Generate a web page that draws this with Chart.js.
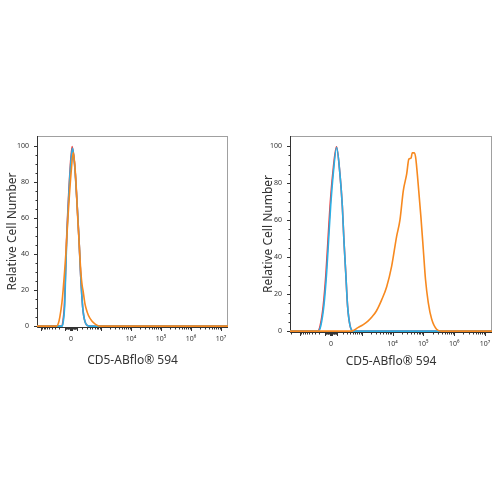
<!DOCTYPE html>
<html>
<head>
<meta charset="utf-8">
<script src="https://cdn.jsdelivr.net/npm/chart.js@4/dist/chart.umd.min.js"></script>
<style>
    html, body { margin: 0; padding: 0; background: #fff; }
    #wrap { position: relative; width: 500px; height: 500px; }
    .panel { position: absolute; top: 0; width: 250px; height: 500px; }
</style>
</head>
<body>
<div id="wrap">
    <div class="panel" style="left:0"><canvas id="leftChart" width="250" height="500"></canvas></div>
    <div class="panel" style="left:250px"><canvas id="rightChart" width="250" height="500"></canvas></div>
</div>
<script>
// Ejes: valores de las etiquetas del eje x (escala logicle) y su texto
const xTickValues = [0, 1e4, 1e5, 1e6, 1e7];
const xTickLabels = ['0', '10⁴', '10⁵', '10⁶', '10⁷'];
const yTickValues = [0, 20, 40, 60, 80, 100];

// Panel izquierdo (posiciones en unidades de la escala logicle)
const leftRedX = [-1.13, -0.3, -0.27, -0.22, -0.18, -0.145, -0.095, -0.035, 0.04, 0.1, 0.144, 0.21, 0.27, 0.32, 0.39, 0.47, 0.6, 5.23];
const leftRedY = [0, 0, 2.2, 11, 29.5, 48, 66.5, 85, 99.7, 93.5, 85, 66.3, 47.8, 29.3, 10.7, 2.4, 0, 0];
const leftBlueX = [-1.13, -0.29, -0.26, -0.21, -0.175, -0.14, -0.09, -0.03, 0.05, 0.1, 0.144, 0.21, 0.27, 0.32, 0.39, 0.47, 0.6, 5.23];
const leftBlueY = [0, 0, 2, 10.7, 29.3, 47.8, 66.3, 84.8, 98.7, 93.5, 84.8, 66.3, 47.8, 29.3, 10.7, 2.4, 0, 0];
const leftOrangeX = [-1.13, -0.48, -0.42, -0.37, -0.3, -0.26, -0.17, -0.1, 0.0, 0.08, 0.16, 0.22, 0.28, 0.33, 0.37, 0.41, 0.46, 0.5, 0.58, 0.69, 0.82, 0.97, 5.23];
const leftOrangeY = [0, 0, 1.5, 5, 13, 20, 40, 60, 84, 96.3, 82, 62, 44, 30, 23, 19, 13, 10, 6, 3, 1, 0, 0];

// Panel derecho
const rightRedX = [-1.33, -0.43, -0.35, -0.25, -0.16, -0.095, -0.03, 0.06, 0.18, 0.29, 0.37, 0.42, 0.48, 0.54, 0.62, 0.72, 5.23];
const rightRedY = [0, 0, 2.9, 13.6, 31.6, 49.5, 67.4, 85.3, 99.6, 85.3, 67.4, 49.5, 31.6, 13.6, 2.9, 0, 0];
const rightBlueX = [-1.33, -0.41, -0.33, -0.23, -0.14, -0.075, -0.01, 0.076, 0.185, 0.29, 0.37, 0.42, 0.48, 0.54, 0.62, 0.72, 5.23];
const rightBlueY = [0, 0, 2.9, 13.6, 31.6, 49.5, 67.4, 85.3, 99.3, 85.3, 67.4, 49.5, 31.6, 13.6, 2.9, 0, 0];
const rightOrangeX = [-1.33, 0.67, 0.89, 1.05, 1.21, 1.35, 1.48, 1.65, 1.81, 1.97, 2.13, 2.24, 2.35, 2.46, 2.53, 2.6, 2.64, 2.7, 2.75, 2.83, 2.92, 3.0, 3.07, 3.16, 3.27, 3.43, 3.59, 5.23];
const rightOrangeY = [0, 0, 2, 3.5, 5.5, 8, 11, 17, 24, 35, 51, 60, 76, 85, 93, 93.5, 96.4, 96.4, 94, 80, 62, 44, 28, 15.4, 6.5, 1, 0, 0];

const RED = '#ef3b3b';
const BLUE = '#2ab0e6';
const ORANGE = '#f7891f';
const FONT = "'Noto Sans', 'Open Sans', sans-serif";

// escala logicle aproximada: arcsinh en décadas
function logicle(v) {
    return Math.asinh(v / 200) / Math.LN10;
}

function xTicks(min, max) {
    const list = [];
    xTickValues.forEach((v, i) => list.push({value: logicle(v), major: true, lbl: xTickLabels[i]}));
    for (let k = 1; k <= 6; k++) {
        for (let m = 1; m <= 9; m++) {
            const v = m * Math.pow(10, k);
            const big = m === 1;
            [v, -v].forEach(s => {
                const u = logicle(s);
                if (u >= min && u <= max && !xTickValues.includes(s)) {
                    list.push({value: u, major: big, lbl: ''});
                }
            });
        }
    }
    return list.sort((a, b) => a.value - b.value);
}

function yTicks() {
    const list = [];
    for (let v = 0; v <= 100; v += 5) {
        const big = yTickValues.includes(v);
        list.push({value: v, major: big, lbl: big ? String(v) : ''});
    }
    return list;
}

const frame = {
    id: 'frame',
    beforeDatasetsDraw(chart) {
        const {ctx, chartArea: a, scales: {x, y}} = chart;
        ctx.save();
        ctx.lineWidth = 1;
        ctx.strokeStyle = '#a0a0a0';
        ctx.strokeRect(a.left + 0.5, a.top + 0.5, a.right - a.left - 1, a.bottom - a.top);
        ctx.strokeStyle = '#333';
        ctx.beginPath();
        ctx.moveTo(a.left + 0.5, a.top);
        ctx.lineTo(a.left + 0.5, a.bottom + 0.5);
        ctx.lineTo(a.right, a.bottom + 0.5);
        x.ticks.forEach(t => {
            const px = Math.round(x.getPixelForValue(t.value)) + 0.5;
            ctx.moveTo(px, a.bottom + 0.5);
            ctx.lineTo(px, a.bottom + (t.major ? 4 : 2.5));
        });
        y.ticks.forEach(t => {
            const py = Math.round(y.getPixelForValue(t.value)) + 0.5;
            ctx.moveTo(a.left + 0.5, py);
            ctx.lineTo(a.left - (t.major ? 3 : 1.5), py);
        });
        ctx.stroke();
        ctx.restore();
    }
};

function series(xs, ys, color) {
    return {
        data: xs.map((v, i) => ({x: v, y: ys[i]})),
        borderColor: color,
        borderWidth: 1.6,
        pointRadius: 0,
        fill: false,
        cubicInterpolationMode: 'monotone',
        tension: 0.4
    };
}

function makeChart(id, datasets, p) {
    return new Chart(document.getElementById(id).getContext('2d'), {
        type: 'line',
        data: {datasets: datasets},
        plugins: [frame],
        options: {
            responsive: false,
            animation: false,
            events: [],
            layout: {padding: {left: 0, right: p.padRight, top: 136, bottom: p.padBottom}},
            plugins: {legend: {display: false}, tooltip: {enabled: false}},
            scales: {
                x: {
                    type: 'linear',
                    min: p.xMin,
                    max: p.xMax,
                    afterBuildTicks: s => { s.ticks = xTicks(p.xMin, p.xMax); },
                    afterFit: s => { s.height = p.xHeight; },
                    grid: {display: false, drawTicks: true, tickLength: 4},
                    border: {display: false},
                    ticks: {
                        autoSkip: false,
                        maxRotation: 0,
                        padding: 4,
                        color: '#333',
                        font: {family: FONT, size: 7},
                        callback: (v, i, ticks) => ticks[i].lbl
                    },
                    title: {
                        display: true,
                        text: 'CD5-ABflo® 594',
                        color: '#333',
                        font: {family: FONT, size: 12},
                        padding: 0
                    }
                },
                y: {
                    min: -0.5,
                    max: 105.5,
                    afterBuildTicks: s => { s.ticks = yTicks(); },
                    afterFit: s => { s.width = p.yWidth; },
                    grid: {display: false, drawTicks: true, tickLength: 4},
                    border: {display: false},
                    ticks: {
                        autoSkip: false,
                        padding: 4,
                        color: '#333',
                        font: {family: FONT, size: 7},
                        callback: (v, i, ticks) => ticks[i].lbl
                    },
                    title: {
                        display: true,
                        text: 'Relative Cell Number',
                        color: '#333',
                        font: {family: FONT, size: 12},
                        padding: {top: p.titlePad, bottom: 0}
                    }
                }
            }
        }
    });
}

// el primer dataset se dibuja encima: naranja, luego azul, rojo al fondo
const leftChart = makeChart('leftChart', [
    series(leftOrangeX, leftOrangeY, ORANGE),
    series(leftBlueX, leftBlueY, BLUE),
    series(leftRedX, leftRedY, RED)
], {xMin: -1.13, xMax: 5.23, padRight: 22, padBottom: 132, xHeight: 41, yWidth: 37, titlePad: 5});

const rightChart = makeChart('rightChart', [
    series(rightOrangeX, rightOrangeY, ORANGE),
    series(rightBlueX, rightBlueY, BLUE),
    series(rightRedX, rightRedY, RED)
], {xMin: -1.33, xMax: 5.23, padRight: 8, padBottom: 131, xHeight: 37, yWidth: 40, titlePad: 11});
</script>
</body>
</html>
